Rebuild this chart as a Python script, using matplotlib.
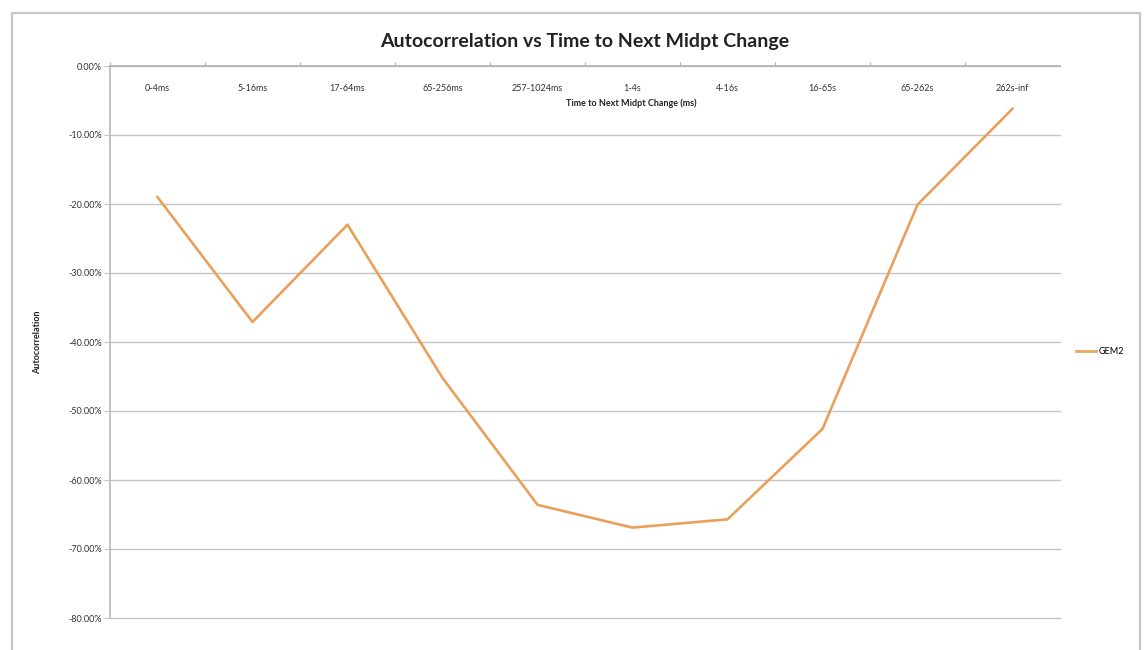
import matplotlib
matplotlib.use("Agg")
import matplotlib.pyplot as plt
from matplotlib.patches import Rectangle
from matplotlib.ticker import FuncFormatter, FixedLocator

# categories on the (top) x axis and series values, in percent
categories = ["0-4ms", "5-16ms", "17-64ms", "65-256ms", "257-1024ms",
              "1-4s", "4-16s", "16-65s", "65-262s", "262s-inf"]
gem2 = [-19.0, -37.1, -23.0, -45.2, -63.6, -66.9, -65.7, -52.6, -20.1, -6.2]
series_name = "GEM2"

plt.rcParams["font.family"] = ["Lato", "DejaVu Sans"]

W, H = 1144, 650
fig = plt.figure(figsize=(W / 100, H / 100), dpi=100)
fig.patch.set_facecolor("white")

# outer chart frame
fig.add_artist(Rectangle((12 / W, -0.02), 1128 / W, 1 - 13 / H + 0.02,
                         transform=fig.transFigure, fill=False,
                         edgecolor="#c8c8c8", linewidth=1.6))

ax = fig.add_axes([110 / W, 1 - 618 / H, 950 / W, 552 / H])
x = list(range(len(categories)))
line, = ax.plot(x, gem2, color="#e8a05a", linewidth=1.9, label=series_name)

ax.set_xlim(-0.5, len(categories) - 0.5)
ax.set_ylim(-80, 0)
ax.yaxis.set_major_locator(FixedLocator(range(-80, 1, 10)))
ax.yaxis.set_major_formatter(FuncFormatter(lambda v, p: f"{v:.2f}%"))
ax.grid(axis="y", color="#c4c4c4", linewidth=1.0)
for gl in ax.get_ygridlines():
    gl.set_clip_on(False)
ax.set_axisbelow(True)

# category axis sits on the 0% line at the top
ax.xaxis.tick_top()
ax.set_xticks([i + 0.5 for i in x[:-1]] + [-0.5])
ax.set_xticklabels([])
ax.tick_params(axis="x", length=3, color="#b0b0b0", top=True, bottom=False)
for i, c in enumerate(categories):
    ax.text(i, -3.2, c, ha="center", va="center", fontsize=6.5, color="#333333")

ax.tick_params(axis="y", length=4, color="#c4c4c4", labelsize=6.5,
               labelcolor="#333333", pad=2)
for s in ["right", "bottom"]:
    ax.spines[s].set_visible(False)
ax.spines["left"].set_color("#b8b8b8")
ax.spines["top"].set_color("#b0b0b0")
ax.spines["left"].set_linewidth(1.2)
ax.spines["top"].set_linewidth(1.2)

fig.text(585 / W, 1 - 41 / H, "Autocorrelation vs Time to Next Midpt Change",
         ha="center", va="center", fontsize=14, fontweight="bold", color="#222222")
fig.text(631 / W, 1 - 103 / H, "Time to Next Midpt Change (ms)",
         ha="center", va="center", fontsize=6.5, fontweight="bold", color="#222222")
fig.text(38 / W, 1 - 342 / H, "Autocorrelation", rotation=90,
         ha="center", va="center", fontsize=6.5, fontweight="bold", color="#222222")

fig.legend(handles=[line], loc="center left", bbox_to_anchor=(1068 / W, 1 - 352 / H),
           frameon=False, fontsize=6.5, handlelength=2.2, handletextpad=0.3)

fig.savefig("out.png", dpi=100)
